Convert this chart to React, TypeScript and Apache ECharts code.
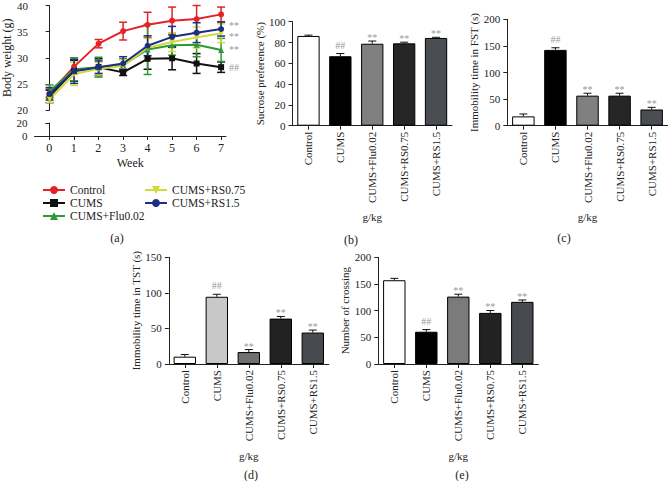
import React, { useEffect, useRef } from "react";
import * as echarts from "echarts";

const FONT = "'Liberation Serif', 'DejaVu Serif', serif";

// ---------- Panel (a): body weight ----------
const weeks = [0, 1, 2, 3, 4, 5, 6, 7];
const groupNames = ["Control", "CUMS", "CUMS+Flu0.02", "CUMS+RS0.75", "CUMS+RS1.5"];
const bwControl = [23.2, 28.3, 32.7, 35.1, 36.3, 37.1, 37.4, 38.3];
const bwControlErr = [0.8, 1.4, 0.8, 1.7, 2.4, 2.6, 2.6, 1.4];
const bwCums = [22.6, 27.5, 28.2, 27.2, 29.8, 29.9, 28.9, 28.2];
const bwCumsErr = [1.2, 2.0, 1.6, 0.6, 2.0, 2.2, 1.9, 1.0];
const bwFlu = [23.6, 27.8, 28.2, 28.6, 31.6, 32.4, 32.5, 31.5];
const bwFluErr = [1.2, 2.2, 1.9, 1.2, 4.8, 1.9, 2.3, 2.2];
const bwRs075 = [22.0, 26.9, 27.9, 28.4, 31.9, 33.0, 33.9, 34.7];
const bwRs075Err = [0.6, 2.2, 1.2, 1.2, 1.8, 1.8, 2.0, 1.8];
const bwRs15 = [23.1, 27.4, 28.2, 28.9, 32.3, 34.0, 34.8, 35.5];
const bwRs15Err = [1.2, 2.3, 1.2, 1.3, 1.9, 2.0, 1.9, 1.35];
const bwEndMarks = ["", "##", "**", "**", "**"];

// ---------- Bar panels ----------
const categories = ["Control", "CUMS", "CUMS+Flu0.02", "CUMS+RS0.75", "CUMS+RS1.5"];
const sucrose = [86.3, 66.8, 78.8, 79.2, 84.4];
const sucroseErr = [0.8, 2.6, 2.6, 1.1, 0.6];
const sucroseMarks = ["", "##", "**", "**", "**"];
const fst = [17.5, 142.5, 56.5, 56.5, 30.5];
const fstErr = [4.5, 4, 4.5, 4.5, 4];
const fstMarks = ["", "##", "**", "**", "**"];
const tst = [10.3, 94.5, 16.8, 63.8, 44.2];
const tstErr = [3, 3.5, 3.5, 3, 3.5];
const tstMarks = ["", "##", "**", "**", "**"];
const crossing = [157, 60.5, 126.3, 95.8, 116.5];
const crossingErr = [3.5, 4, 4.5, 4.5, 3.5];
const crossingMarks = ["", "##", "**", "**", "**"];

// styles
const lineColors = ["#e52228", "#111111", "#2d9a34", "#d3d93a", "#1f2d86"];
const lineSymbols = ["circle", "rect", "triangle", "triangle", "circle"];
const lineSymbolRotate = [0, 0, 0, 180, 0];
const endMarkOffsetY = [0, 0, 0, 3, -4];
const palB = ["#ffffff", "#000000", "#808080", "#262626", "#4a4d52"];
const palD = ["#ffffff", "#c8c8c8", "#6f6f6f", "#222222", "#474b50"];
const palE = ["#ffffff", "#000000", "#7b7b7b", "#222222", "#474b50"];

const AX = "#222";

function valueY(grid: number, min: number, max: number, interval: number, name: string, gap: number, fs = 11, nfs = 11) {
  return {
    type: "value",
    gridIndex: grid,
    min,
    max,
    interval,
    name,
    nameLocation: "middle",
    nameGap: gap,
    nameTextStyle: { fontSize: nfs, color: AX, fontFamily: FONT },
    axisLine: { show: true, lineStyle: { color: AX, width: 1 } },
    axisTick: { show: true, length: 4, lineStyle: { color: AX } },
    axisLabel: { fontSize: fs, color: AX, margin: 7, fontFamily: FONT },
    splitLine: { show: false },
  };
}

function catX(grid: number) {
  return {
    type: "category",
    gridIndex: grid,
    data: categories,
    name: "g/kg",
    nameLocation: "middle",
    nameGap: 86,
    nameTextStyle: { fontSize: 11, color: AX, fontFamily: FONT },
    axisLine: { show: true, lineStyle: { color: AX, width: 1 } },
    axisTick: { show: true, alignWithLabel: true, length: 4, lineStyle: { color: AX } },
    axisLabel: { rotate: 90, interval: 0, fontSize: 11, color: AX, margin: 6, fontFamily: FONT },
  };
}

function barSeries(idx: number, values: number[], pal: string[]) {
  return {
    type: "bar",
    xAxisIndex: idx,
    yAxisIndex: idx,
    barWidth: "70%",
    silent: true,
    z: 2,
    data: values.map((v, i) => ({
      value: v,
      itemStyle: { color: pal[i], borderColor: "#000", borderWidth: 1 },
    })),
  };
}

function barErrSeries(idx: number, values: number[], errs: number[], marks: string[]) {
  return {
    type: "custom",
    xAxisIndex: idx,
    yAxisIndex: idx,
    z: 3,
    silent: true,
    data: values.map((v, i) => [i, v, v + errs[i]]),
    encode: { x: 0, y: [1, 2] },
    renderItem: (params: any, api: any) => {
      const i = api.value(0);
      const b = api.coord([i, api.value(1)]);
      const t = api.coord([i, api.value(2)]);
      const mark = marks[params.dataIndex];
      const st = { stroke: "#111", lineWidth: 1 };
      const children: any[] = [
        { type: "line", shape: { x1: b[0], y1: b[1], x2: t[0], y2: t[1] }, style: st },
        { type: "line", shape: { x1: t[0] - 4, y1: t[1], x2: t[0] + 4, y2: t[1] }, style: st },
      ];
      if (mark) {
        children.push({
          type: "text",
          x: t[0],
          y: t[1] - (mark === "##" ? 8.5 : 3.5),
          style: {
            text: mark,
            fill: "#9a9a9a",
            fontSize: 10,
            fontFamily: FONT,
            align: "center",
            verticalAlign: "middle",
          },
        });
      }
      return { type: "group", children };
    },
  };
}

function lineErrSeries(vals: number[], errs: number[], color: string) {
  return {
    type: "custom",
    xAxisIndex: 0,
    yAxisIndex: 0,
    z: 3,
    silent: true,
    data: weeks.map((w, i) => [w, vals[i] - errs[i], vals[i] + errs[i]]),
    encode: { x: 0, y: [1, 2] },
    renderItem: (params: any, api: any) => {
      const lo = api.coord([api.value(0), api.value(1)]);
      const hi = api.coord([api.value(0), api.value(2)]);
      const st = { stroke: color, lineWidth: 1.5 };
      return {
        type: "group",
        children: [
          { type: "line", shape: { x1: lo[0], y1: lo[1], x2: hi[0], y2: hi[1] }, style: st },
          { type: "line", shape: { x1: lo[0] - 4, y1: lo[1], x2: lo[0] + 4, y2: lo[1] }, style: st },
          { type: "line", shape: { x1: hi[0] - 4, y1: hi[1], x2: hi[0] + 4, y2: hi[1] }, style: st },
        ],
      };
    },
  };
}

function lineSeries(k: number, vals: number[]) {
  const mark = bwEndMarks[k];
  return {
    type: "line",
    name: groupNames[k],
    xAxisIndex: 0,
    yAxisIndex: 0,
    z: 4,
    data: weeks.map((w, i) => [w, vals[i]]),
    symbol: lineSymbols[k],
    symbolRotate: lineSymbolRotate[k],
    symbolSize: 6,
    lineStyle: { color: lineColors[k], width: 2 },
    itemStyle: { color: lineColors[k] },
    endLabel: {
      show: !!mark,
      formatter: mark,
      color: "#9a9a9a",
      fontSize: 10,
      lineHeight: 9,
      fontFamily: FONT,
      distance: 8,
      offset: [0, endMarkOffsetY[k]],
    },
  };
}

const bwVals = [bwControl, bwCums, bwFlu, bwRs075, bwRs15];
const bwErrs = [bwControlErr, bwCumsErr, bwFluErr, bwRs075Err, bwRs15Err];

function captions() {
  const items: [string, number, number][] = [
    ["(a)", 117, 238],
    ["(b)", 351, 240],
    ["(c)", 564, 238],
    ["(d)", 251, 475],
    ["(e)", 462, 475],
  ];
  return items.map(([t, x, y]) => ({
    type: "text",
    x,
    y,
    style: { text: t, fill: AX, fontSize: 12, fontFamily: FONT, align: "center", verticalAlign: "middle" },
  }));
}

const legendBase = {
  orient: "vertical",
  top: 179,
  itemWidth: 22,
  itemHeight: 10,
  itemGap: 1,
  textStyle: { fontSize: 11.5, color: AX, fontFamily: FONT },
  selectedMode: false,
};

const option: any = {
  animation: false,
  backgroundColor: "#ffffff",
  textStyle: { fontFamily: FONT },
  grid: [
    { left: 34.5, top: 4, width: 191.5, height: 106 },
    { left: 34.5, top: 123, width: 191.5, height: 13 },
    { left: 292.5, top: 21.7, width: 159.5, height: 104 },
    { left: 507.3, top: 19.3, width: 160.4, height: 106.4 },
    { left: 168.8, top: 257.3, width: 160, height: 106.7 },
    { left: 378.3, top: 257.3, width: 160, height: 106.7 },
  ],
  xAxis: [
    { type: "value", gridIndex: 0, min: -0.6, max: 7.2, show: false, splitLine: { show: false } },
    {
      type: "value",
      gridIndex: 1,
      min: -0.6,
      max: 7.2,
      name: "Week",
      nameLocation: "middle",
      nameGap: 21,
      nameTextStyle: { fontSize: 12, color: AX, fontFamily: FONT },
      axisLine: { show: true, lineStyle: { color: AX, width: 1 } },
      axisTick: { show: true, length: 4, customValues: weeks, lineStyle: { color: AX } },
      axisLabel: { customValues: weeks, fontSize: 12, color: AX, margin: 6, fontFamily: FONT },
      splitLine: { show: false },
    },
    catX(2),
    catX(3),
    catX(4),
    catX(5),
  ],
  yAxis: [
    valueY(0, 20, 40, 5, "Body weight (g)", 21, 11, 12),
    valueY(1, 0, 20, 20, "", 20, 11, 12),
    valueY(2, 0, 100, 20, "Sucrose preference (%)", 26),
    valueY(3, 0, 200, 50, "Immobility time in FST (s)", 26.5),
    valueY(4, 0, 150, 50, "Immobility time in TST (s)", 27.5),
    valueY(5, 0, 200, 50, "Number of crossing", 23),
  ],
  legend: [
    { ...legendBase, data: groupNames.slice(0, 3), left: 37 },
    { ...legendBase, data: groupNames.slice(3), left: 139 },
  ],
  series: [
    ...bwVals.flatMap((v, k) => [lineErrSeries(v, bwErrs[k], lineColors[k]), lineSeries(k, v)]),
    barSeries(2, sucrose, palB),
    barErrSeries(2, sucrose, sucroseErr, sucroseMarks),
    barSeries(3, fst, palB),
    barErrSeries(3, fst, fstErr, fstMarks),
    barSeries(4, tst, palD),
    barErrSeries(4, tst, tstErr, tstMarks),
    barSeries(5, crossing, palE),
    barErrSeries(5, crossing, crossingErr, crossingMarks),
  ],
  graphic: captions(),
};

export default function App() {
  const ref = useRef<HTMLDivElement>(null);
  useEffect(() => {
    document.body.style.margin = "0";
    const chart = echarts.init(ref.current!, null, { renderer: "svg" });
    chart.setOption(option);
    return () => chart.dispose();
  }, []);
  return <div ref={ref} style={{ width: 668, height: 481 }} />;
}
